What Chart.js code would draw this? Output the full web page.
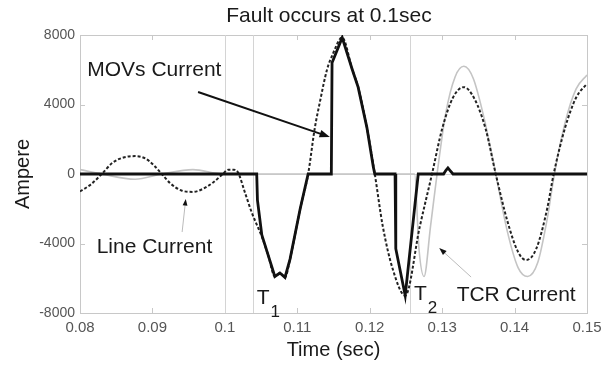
<!DOCTYPE html>
<html>
<head>
  <title>Fault occurs at 0.1sec</title>
  <script src="https://cdn.jsdelivr.net/npm/chart.js@4/dist/chart.umd.min.js"></script>
  <style>
    body { margin: 0; background: #fff; }
    canvas { display: block; }
  </style>
</head>
<body>
  <canvas id="faultChart" width="608" height="367"></canvas>
  <script>
    // Line current (dashed)
    var lineTime = [0.0800, 0.0815, 0.0830, 0.0845, 0.0860, 0.0876, 0.0890, 0.0902, 0.0913, 0.0925, 0.0940, 0.0956, 0.0970, 0.0985, 0.0997,
                    0.1005, 0.1012, 0.1018, 0.1028, 0.1037, 0.1046, 0.1051, 0.1060, 0.1069, 0.1076, 0.1083, 0.1090, 0.1104, 0.1115,
                    0.1124, 0.1131, 0.1141, 0.1149, 0.1162, 0.1176, 0.1184, 0.1196, 0.1207, 0.1218, 0.1232, 0.1249, 0.1269, 0.1286,
                    0.1300, 0.1315, 0.1330, 0.1345, 0.1360, 0.1374, 0.1390, 0.1405, 0.1416, 0.1430, 0.1445, 0.1454, 0.1470, 0.1485, 0.1500];
    var lineAmp = [-1000, -600, 0, 650, 950, 1030, 900, 500, 0, -550, -950, -1030, -850, -450, 0,
                   250, 250, 100, -1100, -2200, -3100, -3600, -4700, -5900, -5700, -5950, -4900, -2000, 0,
                   2600, 4100, 6000, 6900, 7850, 6000, 5000, 2700, 0, -3000, -5500, -7000, -3050, 0,
                   2600, 4400, 5000, 4300, 2600, 0, -2700, -4500, -4950, -4300, -2000, 0, 2700, 4400, 5200];

    // MOVs current (thick solid)
    var movTime = [0.0800, 0.1044, 0.1045, 0.1051, 0.1060, 0.1069, 0.1076, 0.1083, 0.1090, 0.1104, 0.1115, 0.1147, 0.1148,
                   0.1162, 0.1176, 0.1184, 0.1196, 0.1205, 0.1207, 0.1235, 0.1236, 0.1249, 0.1267, 0.1302, 0.1305, 0.1308, 0.1311, 0.1315, 0.1500];
    var movAmp = [0, 0, -1500, -3500, -4700, -5900, -5700, -5950, -4900, -2000, 0, 0, 6400,
                  7850, 6000, 5000, 2700, 400, 0, 0, -4300, -7000, 0, 0, 200, 350, 200, 0, 0];

    // TCR current (light grey)
    var tcrTime = [0.0800, 0.0830, 0.0876, 0.0913, 0.0956, 0.0997, 0.1262, 0.1268, 0.1275, 0.1284, 0.1293,
                   0.1305, 0.1318, 0.1330, 0.1343, 0.1358, 0.1374, 0.1390, 0.1405, 0.1418, 0.1432, 0.1445, 0.1455, 0.1470, 0.1485, 0.1500];
    var tcrAmp = [250, 0, -300, 0, 250, 0, 0, -4300, -5900, -3000, 0,
                  3500, 5600, 6200, 5500, 3200, 0, -3300, -5400, -5900, -5100, -2600, 0, 3000, 4900, 5700];

    var xTicks = [0.08, 0.09, 0.10, 0.11, 0.12, 0.13, 0.14, 0.15];
    var xTickLabels = ['0.08', '0.09', '0.1', '0.11', '0.12', '0.13', '0.14', '0.15'];
    var yTicks = [-8000, -4000, 0, 4000, 8000];
    var yTickLabels = ['-8000', '-4000', '0', '4000', '8000'];

    // fault instant, T1, T2
    var markTimes = [0.1, 0.1039, 0.1256];

    // text labels and arrows, in data units
    var notes = [
      { text: 'MOVs Current', t: 0.0810, a: 5985 },
      { text: 'Line Current', t: 0.0823, a: -4200 },
      { text: 'TCR Current', t: 0.1320, a: -6960 }
    ];
    var subNotes = [
      { text: 'T', sub: '1', t: 0.1044, a: -7135 },
      { text: 'T', sub: '2', t: 0.1261, a: -6900 }
    ];
    var arrows = [
      { t1: 0.0963, a1: 4720, t2: 0.1145, a2: 2130, color: '#111', width: 2, head: 11 },
      { t1: 0.0941, a1: -3340, t2: 0.0946, a2: -1440, color: '#bbb', width: 1, head: 7 },
      { t1: 0.1340, a1: -5930, t2: 0.1296, a2: -4260, color: '#bbb', width: 1, head: 8 }
    ];

    var fontFamily = '"Liberation Sans", Arial, sans-serif';

    function toPoints(ts, vs) {
      return ts.map(function(t, i) { return { x: t, y: vs[i] }; });
    }

    function drawArrow(ctx, x1, y1, x2, y2, color, width, head) {
      var ang = Math.atan2(y2 - y1, x2 - x1);
      ctx.strokeStyle = color;
      ctx.lineWidth = width;
      ctx.beginPath();
      ctx.moveTo(x1, y1);
      ctx.lineTo(x2 - Math.cos(ang) * head * 0.6, y2 - Math.sin(ang) * head * 0.6);
      ctx.stroke();
      ctx.fillStyle = '#111';
      ctx.beginPath();
      ctx.moveTo(x2, y2);
      ctx.lineTo(x2 - head * Math.cos(ang - 0.35), y2 - head * Math.sin(ang - 0.35));
      ctx.lineTo(x2 - head * Math.cos(ang + 0.35), y2 - head * Math.sin(ang + 0.35));
      ctx.closePath();
      ctx.fill();
    }

    var decor = {
      id: 'decor',
      beforeDatasetsDraw: function(chart) {
        var ctx = chart.ctx, a = chart.chartArea;
        var xs = chart.scales.x, ys = chart.scales.y;
        ctx.save();
        ctx.strokeStyle = '#c8c8c8';
        ctx.lineWidth = 1;
        ctx.strokeRect(a.left + 0.5, a.top + 0.5, a.right - a.left, a.bottom - a.top);
        // inward ticks
        ctx.beginPath();
        xTicks.forEach(function(v) {
          var px = Math.round(xs.getPixelForValue(v)) + 0.5;
          ctx.moveTo(px, a.bottom); ctx.lineTo(px, a.bottom - 5);
          ctx.moveTo(px, a.top); ctx.lineTo(px, a.top + 5);
        });
        yTicks.forEach(function(v) {
          var py = Math.round(ys.getPixelForValue(v)) + 0.5;
          ctx.moveTo(a.left, py); ctx.lineTo(a.left + 5, py);
          ctx.moveTo(a.right, py); ctx.lineTo(a.right - 5, py);
        });
        ctx.stroke();
        // marker lines and zero line
        ctx.strokeStyle = '#d4d4d4';
        ctx.beginPath();
        markTimes.forEach(function(v) {
          var px = Math.round(xs.getPixelForValue(v)) + 0.5;
          ctx.moveTo(px, a.top); ctx.lineTo(px, a.bottom);
        });
        var pz = Math.round(ys.getPixelForValue(0)) + 0.5;
        ctx.moveTo(a.left, pz); ctx.lineTo(a.right, pz);
        ctx.stroke();
        ctx.restore();
      },
      afterDatasetsDraw: function(chart) {
        var ctx = chart.ctx, a = chart.chartArea;
        var xs = chart.scales.x, ys = chart.scales.y;
        ctx.save();
        arrows.forEach(function(r) {
          drawArrow(ctx, xs.getPixelForValue(r.t1), ys.getPixelForValue(r.a1),
                    xs.getPixelForValue(r.t2), ys.getPixelForValue(r.a2), r.color, r.width, r.head);
        });
        ctx.fillStyle = '#1a1a1a';
        ctx.textBaseline = 'middle';
        ctx.textAlign = 'left';
        ctx.font = '21px ' + fontFamily;
        notes.forEach(function(n) {
          ctx.fillText(n.text, xs.getPixelForValue(n.t), ys.getPixelForValue(n.a));
        });
        subNotes.forEach(function(n) {
          var px = xs.getPixelForValue(n.t), py = ys.getPixelForValue(n.a);
          ctx.font = '21px ' + fontFamily;
          ctx.fillText(n.text, px, py);
          var w = ctx.measureText(n.text).width;
          ctx.font = '17px ' + fontFamily;
          ctx.fillText(n.sub, px + w + 1, py + 14);
        });
        // title
        ctx.textAlign = 'center';
        ctx.font = '21px ' + fontFamily;
        ctx.fillText('Fault occurs at 0.1sec', 329, 16);
        ctx.restore();
      }
    };

    var ctx = document.getElementById('faultChart').getContext('2d');
    var faultChart = new Chart(ctx, {
      type: 'line',
      data: {
        datasets: [
          {
            label: 'MOVs Current',
            data: toPoints(movTime, movAmp),
            borderColor: '#111',
            borderWidth: 2.8,
            pointRadius: 0,
            tension: 0,
            order: 0
          },
          {
            label: 'Line Current',
            data: toPoints(lineTime, lineAmp),
            borderColor: '#222',
            borderWidth: 2,
            borderDash: [3, 2],
            pointRadius: 0,
            cubicInterpolationMode: 'monotone',
            order: 1
          },
          {
            label: 'TCR Current',
            data: toPoints(tcrTime, tcrAmp),
            borderColor: '#c4c4c4',
            borderWidth: 1.6,
            pointRadius: 0,
            cubicInterpolationMode: 'monotone',
            order: 2
          }
        ]
      },
      options: {
        responsive: false,
        animation: false,
        layout: { padding: { left: 0, right: 21, top: 35, bottom: 0 } },
        plugins: {
          legend: { display: false },
          tooltip: { enabled: false }
        },
        scales: {
          x: {
            type: 'linear',
            min: 0.08,
            max: 0.15,
            grid: { display: false, drawTicks: false },
            border: { display: false },
            afterBuildTicks: function(s) { s.ticks = xTicks.map(function(v) { return { value: v }; }); },
            afterFit: function(s) { s.height = 54; },
            ticks: {
              padding: 6,
              color: '#555',
              font: { family: fontFamily, size: 15 },
              maxRotation: 0,
              callback: function(v, i) { return xTickLabels[i]; }
            },
            title: {
              display: true,
              text: 'Time (sec)',
              color: '#1a1a1a',
              font: { family: fontFamily, size: 20 },
              padding: { top: 0, bottom: 5 }
            }
          },
          y: {
            min: -8000,
            max: 8000,
            grid: { display: false, drawTicks: false },
            border: { display: false },
            afterBuildTicks: function(s) { s.ticks = yTicks.map(function(v) { return { value: v }; }); },
            afterFit: function(s) { s.width = 80; },
            ticks: {
              padding: 5,
              color: '#555',
              font: { family: fontFamily, size: 14 },
              callback: function(v, i) { return yTickLabels[i]; }
            },
            title: {
              display: true,
              text: 'Ampere',
              color: '#1a1a1a',
              font: { family: fontFamily, size: 20 },
              padding: { top: 11, bottom: 0 }
            }
          }
        }
      },
      plugins: [decor]
    });
  </script>
</body>
</html>
